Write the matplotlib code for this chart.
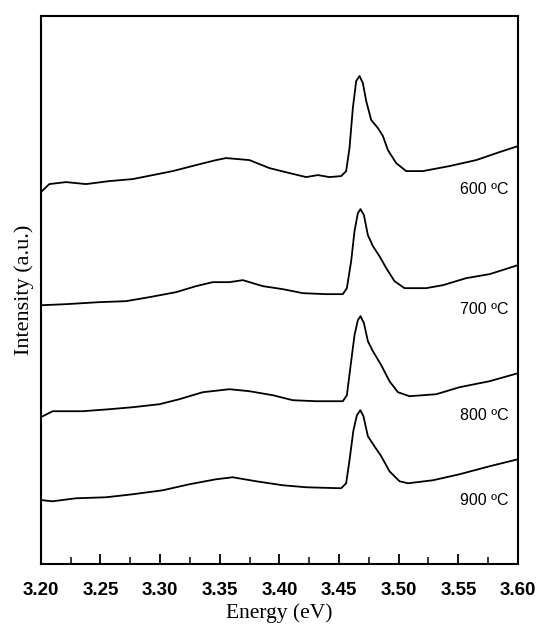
import matplotlib
matplotlib.use('Agg')
import matplotlib.pyplot as plt
from matplotlib.ticker import MultipleLocator

# ข้อมูลที่อ่านจากภาพ: พลังงาน (eV) และความเข้ม (a.u.) ของแต่ละอุณหภูมิ
e600 = [3.2011, 3.2072, 3.2212, 3.2380, 3.2575, 3.2771, 3.2939, 3.3107, 3.3302,
        3.3470, 3.3554, 3.3749, 3.3917, 3.4085, 3.4225, 3.4323, 3.4420, 3.4518,
        3.4560, 3.4588, 3.4616, 3.4644, 3.4672, 3.4700, 3.4728, 3.4770, 3.4826,
        3.4868, 3.4910, 3.4979, 3.5063, 3.5203, 3.5426, 3.5650, 3.5846, 3.6000]
i600 = [373, 380, 382, 380, 383, 385, 389, 393, 399,
        404, 406, 404, 396, 391, 387, 389, 387, 388,
        393, 416, 456, 483, 488, 481, 463, 444, 436,
        428, 414, 401, 393, 393, 398, 404, 412, 418]

e700 = [3.2017, 3.2212, 3.2491, 3.2715, 3.2911, 3.3135, 3.3302, 3.3442, 3.3582,
        3.3694, 3.3862, 3.4029, 3.4197, 3.4392, 3.4532, 3.4566, 3.4602, 3.4630,
        3.4658, 3.4680, 3.4709, 3.4742, 3.4784, 3.4839, 3.4896, 3.4965, 3.5049,
        3.5231, 3.5371, 3.5566, 3.5762, 3.6000]
i700 = [259, 260, 262, 263, 267, 272, 278, 282, 282,
        284, 278, 275, 271, 270, 270, 276, 303, 333,
        351, 355, 349, 329, 318, 308, 296, 283, 276,
        276, 279, 286, 290, 299]

e800 = [3.2017, 3.2101, 3.2352, 3.2575, 3.2771, 3.2995, 3.3162, 3.3358, 3.3582,
        3.3749, 3.3945, 3.4113, 3.4309, 3.4532, 3.4566, 3.4602, 3.4630, 3.4658,
        3.4680, 3.4709, 3.4742, 3.4784, 3.4854, 3.4923, 3.4994, 3.5091, 3.5315,
        3.5510, 3.5762, 3.6000]
i800 = [148, 153, 153, 155, 157, 160, 165, 172, 175,
        173, 169, 164, 163, 163, 169, 203, 229, 244,
        248, 241, 223, 213, 199, 183, 172, 168, 170,
        177, 183, 191]

e900 = [3.2017, 3.2101, 3.2296, 3.2548, 3.2771, 3.3023, 3.3246, 3.3470, 3.3609,
        3.3805, 3.4029, 3.4225, 3.4518, 3.4560, 3.4588, 3.4621, 3.4650, 3.4678,
        3.4705, 3.4742, 3.4797, 3.4854, 3.4923, 3.5007, 3.5078, 3.5287, 3.5510,
        3.5762, 3.6000]
i900 = [64, 63, 66, 67, 70, 74, 80, 85, 87,
        83, 79, 77, 76, 81, 104, 134, 149, 154,
        148, 128, 118, 108, 93, 83, 81, 84, 90,
        98, 105]

labels = ['600 ºC', '700 ºC', '800 ºC', '900 ºC']
label_y = [375, 255, 149, 64]
xtick_vals = [3.20, 3.25, 3.30, 3.35, 3.40, 3.45, 3.50, 3.55, 3.60]

fig = plt.figure(figsize=(5.36, 6.25), dpi=100)
ax = fig.add_axes([0.0759, 0.0971, 0.8905, 0.8773])

curves = [(e600, i600), (e700, i700), (e800, i800), (e900, i900)]
for (en, inten), lab, ly in zip(curves, labels, label_y):
    ax.plot(en, inten, color='black', lw=1.3, solid_joinstyle='round')
    ax.text(3.592, ly, lab, ha='right', va='center', fontsize=11.5,
            family='Liberation Sans')

ax.set_xlim(3.2, 3.6)
ax.set_ylim(0, 548)
ax.set_yticks([])
ax.xaxis.set_minor_locator(MultipleLocator(0.025))
ax.set_xticks(xtick_vals)
ax.set_xticklabels(['%.2f' % v for v in xtick_vals],
                   fontsize=13.5, fontweight='bold', family='Liberation Sans')
ax.tick_params(axis='x', which='major', direction='in', length=7, width=1.3, pad=13)
ax.tick_params(axis='x', which='minor', direction='in', length=5, width=1.1)
for s in ax.spines.values():
    s.set_linewidth(1.5)

ax.set_xlabel('Energy (eV)', fontsize=15.5, family='Liberation Serif', labelpad=3)
ax.set_ylabel('Intensity (a.u.)', fontsize=16, family='Liberation Serif', labelpad=5)

fig.savefig('out.png', dpi=100)
